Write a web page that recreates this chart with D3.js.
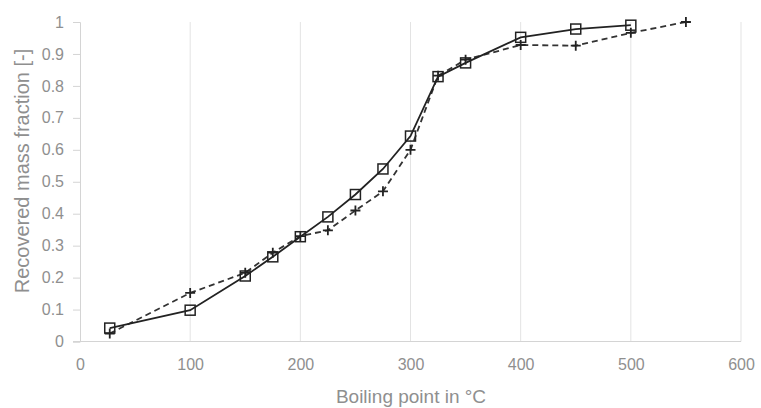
<!DOCTYPE html>
<html>
<head>
<meta charset="utf-8">
<script src="https://cdn.jsdelivr.net/npm/d3@7"></script>
<style>
	body { margin: 0; background: #fff; }
	svg { font-family: "Liberation Sans", Arial, sans-serif; }
</style>
</head>
<body>
<svg id="chart"></svg>
<script>

// boiling point (°C) and recovered mass fraction
var measuredX = [27, 100, 150, 175, 200, 225, 250, 275, 300, 325, 350, 400, 450, 500];
var measuredY = [0.042, 0.098, 0.205, 0.265, 0.328, 0.39, 0.46, 0.54, 0.643, 0.829, 0.872, 0.952, 0.978, 0.99];

var modelX = [27, 100, 150, 175, 200, 225, 250, 275, 300, 325, 350, 400, 450, 500, 550];
var modelY = [0.025, 0.152, 0.215, 0.278, 0.33, 0.348, 0.41, 0.47, 0.6, 0.832, 0.882, 0.928, 0.926, 0.966, 1.0];

var xTicks = [0, 100, 200, 300, 400, 500, 600];
var yTicks = [0, 0.1, 0.2, 0.3, 0.4, 0.5, 0.6, 0.7, 0.8, 0.9, 1];

var width = 761,
	height = 408;

var svg = d3.select("#chart")
	.attr("width", width)
	.attr("height", height);

var x = d3.scaleLinear().domain([0, 600]).range([80, 741]);
var y = d3.scaleLinear().domain([0, 1]).range([341.5, 22]);

// vertical gridlines
svg.append("g")
	.selectAll("line")
	.data(xTicks.slice(1))
	.join("line")
	.attr("x1", d => x(d)).attr("x2", d => x(d))
	.attr("y1", y(1)).attr("y2", y(0))
	.attr("stroke", "#e3e3e3")
	.attr("stroke-width", 1);

// y axis
var yAxis = svg.append("g")
	.attr("transform", `translate(${x(0)},0)`)
	.call(d3.axisLeft(y).tickValues(yTicks).tickSize(7).tickPadding(9).tickFormat(d3.format("")));
yAxis.select(".domain").attr("stroke", "#d4d4d4");
yAxis.selectAll(".tick line").attr("stroke", "#d4d4d4");
yAxis.selectAll("text").attr("fill", "#8f8f8f").style("font-size", "16px");

// x axis
var xAxis = svg.append("g")
	.attr("transform", `translate(0,${y(0)})`)
	.call(d3.axisBottom(x).tickValues(xTicks).tickSize(0).tickPadding(17));
xAxis.select(".domain").attr("stroke", "#d4d4d4").attr("d", `M${x(0) - 7},0H${x(600)}`);
xAxis.selectAll("text").attr("fill", "#8f8f8f").style("font-size", "16px");

svg.append("text")
	.attr("x", 411).attr("y", 403)
	.attr("text-anchor", "middle")
	.attr("fill", "#8f8f8f")
	.style("font-size", "19px")
	.text("Boiling point in °C");

svg.append("text")
	.attr("transform", "translate(29,171) rotate(-90)")
	.attr("text-anchor", "middle")
	.attr("fill", "#8f8f8f")
	.style("font-size", "20px")
	.text("Recovered mass fraction [-]");

var line = d3.line()
	.x(d => x(d[0]))
	.y(d => y(d[1]));

var modelPts = modelX.map((d, i) => [d, modelY[i]]);
var measuredPts = measuredX.map((d, i) => [d, measuredY[i]]);

// dashed series with + markers
svg.append("path")
	.datum(modelPts)
	.attr("fill", "none")
	.attr("stroke", "#333")
	.attr("stroke-width", 1.8)
	.attr("stroke-dasharray", "6,4")
	.attr("d", line);

svg.append("g")
	.selectAll("path")
	.data(modelPts)
	.join("path")
	.attr("d", d => `M${x(d[0]) - 5},${y(d[1])}h10M${x(d[0])},${y(d[1]) - 5}v10`)
	.attr("stroke", "#222")
	.attr("stroke-width", 1.8);

// solid series with square markers
svg.append("path")
	.datum(measuredPts)
	.attr("fill", "none")
	.attr("stroke", "#222")
	.attr("stroke-width", 1.8)
	.attr("d", line);

svg.append("g")
	.selectAll("rect")
	.data(measuredPts)
	.join("rect")
	.attr("x", d => x(d[0]) - 5)
	.attr("y", d => y(d[1]) - 5)
	.attr("width", 10)
	.attr("height", 10)
	.attr("fill", "none")
	.attr("stroke", "#222")
	.attr("stroke-width", 1.5);

</script>
</body>
</html>
